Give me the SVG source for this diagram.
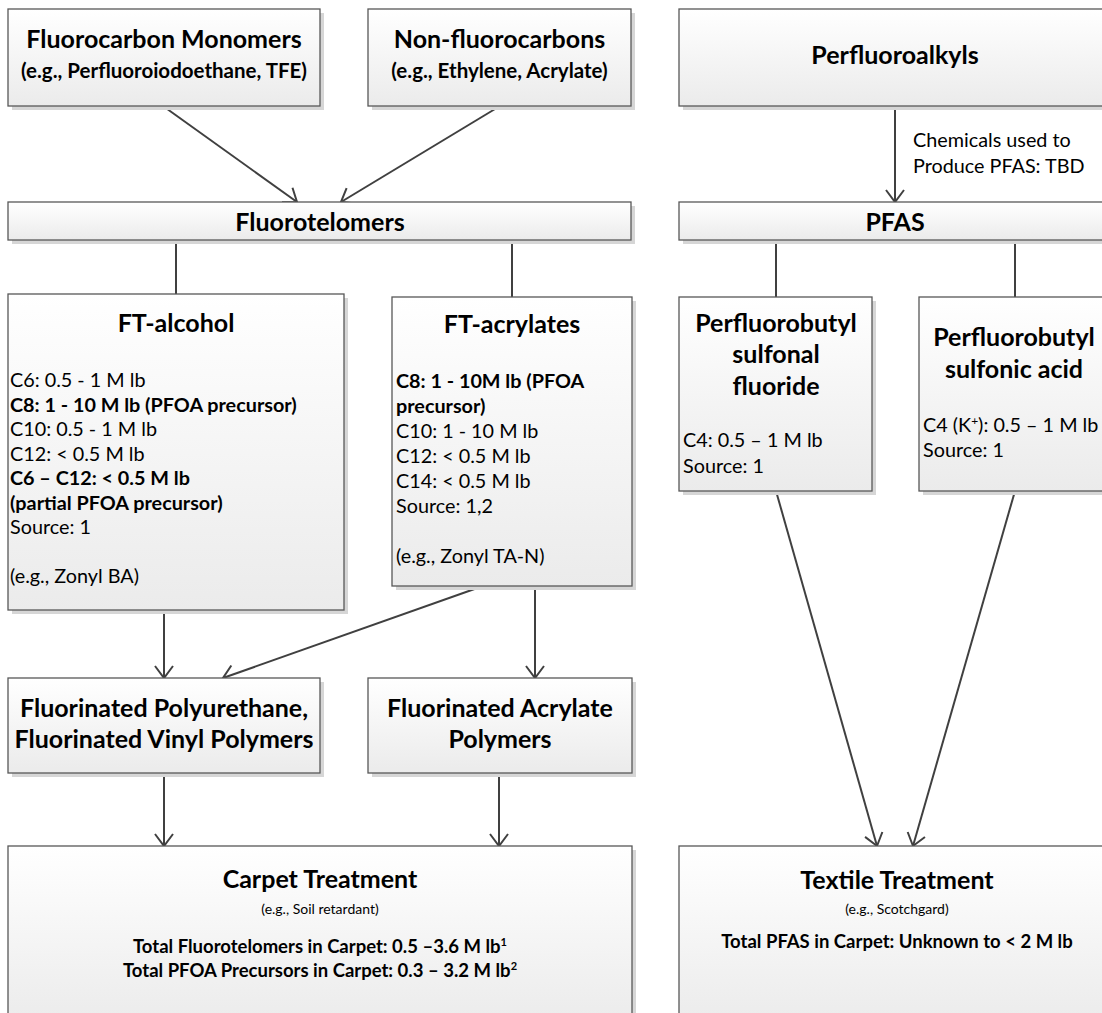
<svg xmlns="http://www.w3.org/2000/svg" width="1102" height="1013" viewBox="0 0 1102 1013">
<defs>
<linearGradient id="bg" x1="0" y1="0" x2="0" y2="1">
<stop offset="0" stop-color="#ffffff"/>
<stop offset="1" stop-color="#ebebeb"/>
</linearGradient>
<marker id="ah" markerUnits="userSpaceOnUse" markerWidth="30" markerHeight="30" viewBox="-15 -15 30 30" refX="0" refY="0" orient="auto" overflow="visible">
<path d="M-12,-9 L0,0 L-12,9" fill="none" stroke="#404040" stroke-width="2"/>
</marker>
</defs>
<style>
.sh{fill:#d6d6d6}
.bx{fill:url(#bg);stroke:#585858;stroke-width:1.3}
.t{font-family:Lato,"Liberation Sans",sans-serif;font-weight:bold;font-size:25px;fill:#000;text-anchor:middle}
.s{font-family:Lato,"Liberation Sans",sans-serif;font-weight:bold;font-size:20.5px;fill:#000;text-anchor:middle}
.b{font-family:Lato,"Liberation Sans",sans-serif;font-size:19.8px;fill:#000}
.bb{font-weight:bold}
.e{font-family:Lato,"Liberation Sans",sans-serif;font-size:14px;fill:#000;text-anchor:middle}
.tt{font-family:Lato,"Liberation Sans",sans-serif;font-weight:bold;font-size:18.5px;fill:#000;text-anchor:middle}
.c{fill:none;stroke:#404040;stroke-width:2}
</style>
<rect width="1102" height="1013" fill="#ffffff"/>

<g id="connectors">
<line class="c" x1="163" y1="106" x2="297" y2="202" marker-end="url(#ah)"/>
<line class="c" x1="500" y1="106" x2="341" y2="202" marker-end="url(#ah)"/>
<line class="c" x1="895" y1="106" x2="895" y2="202" marker-end="url(#ah)"/>
<text class="b" x="913" y="147">Chemicals used to</text>
<text class="b" x="913" y="173">Produce PFAS: TBD</text>
<line class="c" x1="176" y1="240" x2="176" y2="294"/>
<line class="c" x1="512" y1="240" x2="512" y2="297"/>
<line class="c" x1="776" y1="240" x2="776" y2="297"/>
<line class="c" x1="1015" y1="240" x2="1015" y2="297"/>
<line class="c" x1="164" y1="610" x2="164" y2="678" marker-end="url(#ah)"/>
<line class="c" x1="483" y1="586" x2="223" y2="678" marker-end="url(#ah)"/>
<line class="c" x1="535" y1="586" x2="535" y2="678" marker-end="url(#ah)"/>
<line class="c" x1="164" y1="773" x2="164" y2="846" marker-end="url(#ah)"/>
<line class="c" x1="499" y1="773" x2="499" y2="846" marker-end="url(#ah)"/>
<line class="c" x1="776" y1="491" x2="877" y2="846" marker-end="url(#ah)"/>
<line class="c" x1="1015" y1="491" x2="913" y2="846" marker-end="url(#ah)"/>
</g>

<g id="fluorocarbon-monomers">
<rect class="sh" x="12" y="13" width="312" height="97"/>
<rect class="bx" x="8" y="9" width="312" height="97"/>
<text class="t" x="164" y="48">Fluorocarbon Monomers</text>
<text class="s" x="164" y="78">(e.g., Perfluoroiodoethane, TFE)</text>
</g>

<g id="non-fluorocarbons">
<rect class="sh" x="372" y="13" width="263" height="97"/>
<rect class="bx" x="368" y="9" width="263" height="97"/>
<text class="t" x="499.5" y="48">Non-fluorocarbons</text>
<text class="s" x="499.5" y="78">(e.g., Ethylene, Acrylate)</text>
</g>

<g id="perfluoroalkyls">
<rect class="sh" x="683" y="13" width="440" height="97"/>
<rect class="bx" x="679" y="9" width="440" height="97"/>
<text class="t" x="895" y="64">Perfluoroalkyls</text>
</g>

<g id="fluorotelomers">
<rect class="sh" x="12" y="206" width="623" height="38"/>
<rect class="bx" x="8" y="202" width="623" height="38"/>
<text class="t" x="320" y="231">Fluorotelomers</text>
</g>

<g id="pfas">
<rect class="sh" x="683" y="206" width="440" height="38"/>
<rect class="bx" x="679" y="202" width="440" height="38"/>
<text class="t" x="895" y="231">PFAS</text>
</g>

<g id="ft-alcohol">
<rect class="sh" x="12" y="298" width="336" height="316"/>
<rect class="bx" x="8" y="294" width="336" height="316"/>
<text class="t" x="176" y="332">FT-alcohol</text>
<text class="b" x="10" y="387">C6: 0.5 - 1 M lb</text>
<text class="b bb" x="10" y="411.5">C8: 1 - 10 M lb (PFOA precursor)</text>
<text class="b" x="10" y="436">C10: 0.5 - 1 M lb</text>
<text class="b" x="10" y="460.5">C12: &lt; 0.5 M lb</text>
<text class="b bb" x="10" y="485">C6 – C12: &lt; 0.5 M lb</text>
<text class="b bb" x="10" y="509.5">(partial PFOA precursor)</text>
<text class="b" x="10" y="534">Source: 1</text>
<text class="b" x="10" y="583">(e.g., Zonyl BA)</text>
</g>

<g id="ft-acrylates">
<rect class="sh" x="396" y="301" width="240" height="289"/>
<rect class="bx" x="392" y="297" width="240" height="289"/>
<text class="t" x="512" y="333">FT-acrylates</text>
<text class="b bb" x="396" y="388">C8: 1 - 10M lb (PFOA</text>
<text class="b bb" x="396" y="413">precursor)</text>
<text class="b" x="396" y="438">C10: 1 - 10 M lb</text>
<text class="b" x="396" y="463">C12: &lt; 0.5 M lb</text>
<text class="b" x="396" y="488">C14: &lt; 0.5 M lb</text>
<text class="b" x="396" y="513">Source: 1,2</text>
<text class="b" x="396" y="563">(e.g., Zonyl TA-N)</text>
</g>

<g id="perfluorobutyl-sulfonal-fluoride">
<rect class="sh" x="683" y="301" width="193" height="194"/>
<rect class="bx" x="679" y="297" width="193" height="194"/>
<text class="t" x="776" y="332">Perfluorobutyl</text>
<text class="t" x="776" y="363">sulfonal</text>
<text class="t" x="776" y="395">fluoride</text>
<text class="b" x="683" y="447">C4: 0.5 – 1 M lb</text>
<text class="b" x="683" y="473">Source: 1</text>
</g>

<g id="perfluorobutyl-sulfonic-acid">
<rect class="sh" x="923" y="301" width="200" height="194"/>
<rect class="bx" x="919" y="297" width="200" height="194"/>
<text class="t" x="1014" y="346">Perfluorobutyl</text>
<text class="t" x="1014" y="378">sulfonic acid</text>
<text class="b" x="923" y="432">C4 (K<tspan dy="-7" font-size="12">+</tspan><tspan dy="7">): 0.5 – 1 M lb</tspan></text>
<text class="b" x="923" y="457">Source: 1</text>
</g>

<g id="fluorinated-polyurethane">
<rect class="sh" x="12" y="682" width="312" height="95"/>
<rect class="bx" x="8" y="678" width="312" height="95"/>
<text class="t" x="164" y="717" font-size="25.5">Fluorinated Polyurethane,</text>
<text class="t" x="164" y="748" font-size="25.5">Fluorinated Vinyl Polymers</text>
</g>

<g id="fluorinated-acrylate-polymers">
<rect class="sh" x="372" y="682" width="264" height="95"/>
<rect class="bx" x="368" y="678" width="264" height="95"/>
<text class="t" x="500" y="717" font-size="25.5">Fluorinated Acrylate</text>
<text class="t" x="500" y="748" font-size="25.5">Polymers</text>
</g>

<g id="carpet-treatment">
<rect class="sh" x="12" y="850" width="624" height="180"/>
<rect class="bx" x="8" y="846" width="624" height="180"/>
<text class="t" x="320" y="888">Carpet Treatment</text>
<text class="e" x="320" y="914">(e.g., Soil retardant)</text>
<text class="tt" x="320" y="953">Total Fluorotelomers in Carpet: 0.5 –3.6 M lb<tspan dy="-7" font-size="11">1</tspan></text>
<text class="tt" x="320" y="977">Total PFOA Precursors in Carpet: 0.3 – 3.2 M lb<tspan dy="-7" font-size="11">2</tspan></text>
</g>

<g id="textile-treatment">
<rect class="sh" x="683" y="850" width="440" height="180"/>
<rect class="bx" x="679" y="846" width="440" height="180"/>
<text class="t" x="897" y="889">Textile Treatment</text>
<text class="e" x="897" y="914">(e.g., Scotchgard)</text>
<text class="tt" x="897" y="948" font-size="20.5">Total PFAS in Carpet: Unknown to &lt; 2 M lb</text>
</g>
</svg>
